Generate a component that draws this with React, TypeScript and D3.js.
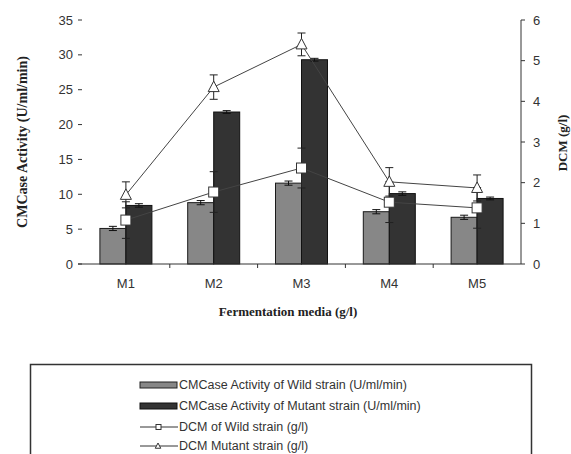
import React from "react";
import * as d3 from "d3";

const categories = ["M1", "M2", "M3", "M4", "M5"];
const cmcWild = [5.1, 8.8, 11.6, 7.5, 6.7];
const cmcWildErr = [0.3, 0.3, 0.3, 0.3, 0.3];
const cmcMutant = [8.4, 21.8, 29.3, 10.1, 9.4];
const cmcMutantErr = [0.25, 0.2, 0.2, 0.25, 0.2];
const dcmWild = [1.08, 1.77, 2.36, 1.52, 1.38];
const dcmWildErr = [0.45, 0.5, 0.49, 0.5, 0.5];
const dcmMutant = [1.7, 4.35, 5.4, 2.02, 1.87];
const dcmMutantErr = [0.32, 0.3, 0.28, 0.35, 0.32];
const leftTicks = [0, 5, 10, 15, 20, 25, 30, 35];
const rightTicks = [0, 1, 2, 3, 4, 5, 6];
const legendLabels = [
  "CMCase Activity of Wild strain (U/ml/min)",
  "CMCase Activity of Mutant strain (U/ml/min)",
  "DCM of Wild strain (g/l)",
  "DCM Mutant strain (g/l)",
];

const W = 571;
const H = 454;
const X0 = 82;
const X1 = 521;
const Y0 = 264;
const Y1 = 20;

export default function App() {
  const x = d3.scaleBand<string>().domain(categories).range([X0, X1]).padding(0);
  const yL = d3.scaleLinear().domain([0, 35]).range([Y0, Y1]);
  const yR = d3.scaleLinear().domain([0, 6]).range([Y0, Y1]);
  const cx = (c: string) => (x(c) as number) + x.bandwidth() / 2;
  const bw = 26;
  const sans = "'Liberation Sans', Arial, sans-serif";
  const serif = "'Liberation Serif', 'Times New Roman', serif";
  const lineColor = "#444";

  const lineW = d3
    .line<number>()
    .x((_, i) => cx(categories[i]))
    .y((d) => yR(d));

  const cap = 4;

  const errBar = (xc: number, yc: number, yLo: number, yHi: number, key: string, color = "#111") => (
    <g key={key} stroke={color} strokeWidth={1}>
      <line x1={xc} x2={xc} y1={yLo} y2={yHi} />
      <line x1={xc - cap} x2={xc + cap} y1={yLo} y2={yLo} />
      <line x1={xc - cap} x2={xc + cap} y1={yHi} y2={yHi} />
    </g>
  );

  const tri = (px: number, py: number, s: number) =>
    `M${px},${py - s * 0.6}L${px + s * 0.55},${py + s * 0.45}L${px - s * 0.55},${py + s * 0.45}Z`;

  const legendRows = [385, 406, 427, 446];

  return (
    <svg width={W} height={H} style={{ position: "absolute", left: 0, top: 0, background: "#fff" }}>
      <rect x={0} y={0} width={W} height={H} fill="#fff" />
      {/* bars */}
      {categories.map((c, i) => (
        <g key={"b" + c}>
          <rect
            x={cx(c) - bw}
            y={yL(cmcWild[i])}
            width={bw}
            height={Y0 - yL(cmcWild[i])}
            fill="#878787"
            stroke="#1a1a1a"
            strokeWidth={1}
          />
          <rect
            x={cx(c)}
            y={yL(cmcMutant[i])}
            width={bw}
            height={Y0 - yL(cmcMutant[i])}
            fill="#333333"
            stroke="#111"
            strokeWidth={1}
          />
        </g>
      ))}
      {categories.map((c, i) =>
        errBar(
          cx(c) - bw / 2,
          yL(cmcWild[i]),
          yL(cmcWild[i] - cmcWildErr[i]),
          yL(cmcWild[i] + cmcWildErr[i]),
          "ew" + c
        )
      )}
      {categories.map((c, i) =>
        errBar(
          cx(c) + bw / 2,
          yL(cmcMutant[i]),
          yL(cmcMutant[i] - cmcMutantErr[i]),
          yL(cmcMutant[i] + cmcMutantErr[i]),
          "em" + c
        )
      )}
      {/* x axis */}
      <line x1={78} x2={X1} y1={Y0} y2={Y0} stroke="#333" strokeWidth={1} />
      {categories.slice(1).map((c) => (
        <line key={"xt" + c} x1={x(c)} x2={x(c)} y1={Y0} y2={Y0 + 4} stroke="#333" />
      ))}
      {categories.map((c) => (
        <text key={"xl" + c} x={cx(c)} y={288} textAnchor="middle" fontFamily={sans} fontSize={13} fill="#333">
          {c}
        </text>
      ))}
      {/* left ticks */}
      {leftTicks.map((t) => (
        <g key={"lt" + t}>
          <line x1={78} x2={82} y1={yL(t)} y2={yL(t)} stroke="#333" />
          <text x={73} y={yL(t) + 4.5} textAnchor="end" fontFamily={sans} fontSize={13} fill="#333">
            {t}
          </text>
        </g>
      ))}
      {/* right axis */}
      <line x1={X1} x2={X1} y1={Y1} y2={Y0} stroke="#333" />
      {rightTicks.map((t) => (
        <g key={"rt" + t}>
          <line x1={X1} x2={X1 + 4} y1={yR(t)} y2={yR(t)} stroke="#333" />
          <text x={533} y={yR(t) + 4.5} textAnchor="start" fontFamily={sans} fontSize={13} fill="#333">
            {t}
          </text>
        </g>
      ))}
      {/* lines */}
      <path d={lineW(dcmWild) || ""} fill="none" stroke={lineColor} strokeWidth={1} />
      <path d={lineW(dcmMutant) || ""} fill="none" stroke={lineColor} strokeWidth={1} />
      {categories.map((c, i) =>
        errBar(
          cx(c),
          yR(dcmWild[i]),
          yR(dcmWild[i] - dcmWildErr[i]),
          yR(dcmWild[i] + dcmWildErr[i]),
          "dw" + c,
          "#222"
        )
      )}
      {categories.map((c, i) =>
        errBar(
          cx(c),
          yR(dcmMutant[i]),
          yR(dcmMutant[i] - dcmMutantErr[i]),
          yR(dcmMutant[i] + dcmMutantErr[i]),
          "dm" + c,
          "#222"
        )
      )}
      {categories.map((c, i) => (
        <rect
          key={"sq" + c}
          x={cx(c) - 5}
          y={yR(dcmWild[i]) - 5}
          width={10}
          height={10}
          fill="#fff"
          stroke="#333"
          strokeWidth={1}
        />
      ))}
      {categories.map((c, i) => (
        <path key={"tr" + c} d={tri(cx(c), yR(dcmMutant[i]), 10)} fill="#fff" stroke="#333" strokeWidth={1} />
      ))}
      {/* axis titles */}
      <text
        transform={`translate(27,${142}) rotate(-90)`}
        textAnchor="middle"
        fontFamily={serif}
        fontWeight="bold"
        fontSize={14}
        fill="#222"
      >
        CMCase Activity (U/ml/min)
      </text>
      <text
        transform={`translate(567,${143}) rotate(-90)`}
        textAnchor="middle"
        fontFamily={serif}
        fontWeight="bold"
        fontSize={13}
        fill="#222"
      >
        DCM (g/l)
      </text>
      <text x={288} y={316} textAnchor="middle" fontFamily={serif} fontWeight="bold" fontSize={13} fill="#222">
        Fermentation media (g/l)
      </text>
      {/* legend */}
      <path d={`M30.5,${H}V364.5H531.5V${H}`} fill="none" stroke="#333" strokeWidth={1.5} />
      <rect x={140} y={legendRows[0] - 3} width={37} height={6} fill="#878787" stroke="#222" />
      <rect x={140} y={legendRows[1] - 3} width={37} height={6} fill="#333" stroke="#111" />
      <line x1={140} x2={178} y1={legendRows[2]} y2={legendRows[2]} stroke="#333" />
      <rect x={156} y={legendRows[2] - 2.5} width={5} height={5} fill="#fff" stroke="#333" />
      <line x1={140} x2={178} y1={legendRows[3]} y2={legendRows[3]} stroke="#333" />
      <path d={tri(158, legendRows[3], 5)} fill="#fff" stroke="#333" />
      {legendLabels.map((l, i) => (
        <text key={"lg" + i} x={179} y={legendRows[i] + 4} fontFamily={sans} fontSize={12.5} fill="#333">
          {l}
        </text>
      ))}
    </svg>
  );
}
